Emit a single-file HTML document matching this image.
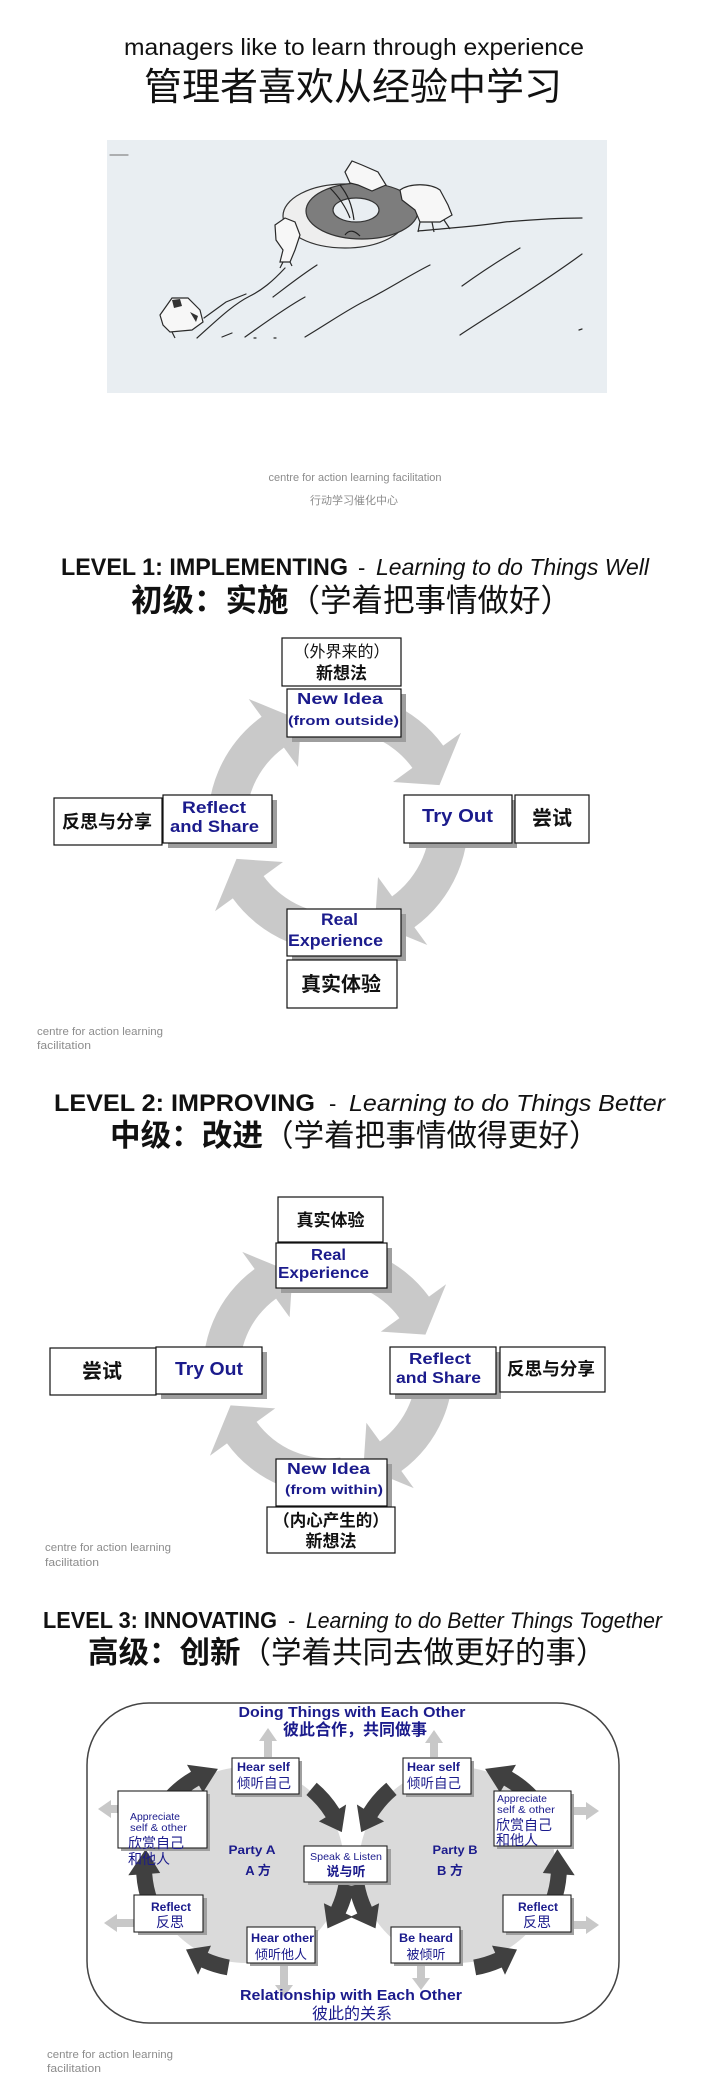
<!DOCTYPE html>
<html>
<head>
<meta charset="utf-8">
<style>
  html,body{margin:0;padding:0;background:#fff;}
  body{width:703px;height:2100px;overflow:hidden;}
  svg{display:block;}
  .en{font-family:"Liberation Sans","Noto Sans CJK SC",sans-serif;}
  .cn{font-family:"Liberation Sans","Noto Sans CJK SC",sans-serif;}
  .nv{fill:#1b1b8c;}
  .cap{fill:#8c8c8c;font-family:"Liberation Sans","Noto Sans CJK SC",sans-serif;}
</style>
</head>
<body>
<svg width="703" height="2100" viewBox="0 0 703 2100" xmlns="http://www.w3.org/2000/svg">

<!-- ============ TOP SECTION ============ -->
<text class="en" x="354" y="55" font-size="23" text-anchor="middle" textLength="460" lengthAdjust="spacingAndGlyphs" fill="#111">managers like to learn through experience</text>
<text class="cn" x="353" y="100" font-size="38" text-anchor="middle" fill="#111">管理者喜欢从经验中学习</text>

<!-- picture -->
<rect x="107" y="140" width="500" height="253" fill="#e9eef2"/>
<g stroke="#2a2a2a" stroke-width="1.2" fill="none" stroke-linecap="round">
  <path d="M110,155 L128,155" stroke="#888"/>
  <path d="M197,338 C215,322 232,305 250,296 C262,290 272,282 285,268"/>
  <path d="M204,318 L226,302 L246,294"/>
  <path d="M418,231 C450,228 480,226 505,222 C540,219 565,218 582,218"/>
  <path d="M273,297 C285,288 300,276 317,265"/>
  <path d="M245,337 C262,325 285,308 305,297"/>
  <path d="M305,337 C330,322 350,308 367,300 C390,288 410,275 430,265"/>
  <path d="M462,286 C480,273 500,260 520,248"/>
  <path d="M460,335 C490,315 540,285 582,254"/>
  <path d="M222,337 L232,333"/>
  <path d="M254,338 L256,338 M274,338 L276,338 M579,330 L582,329"/>
</g>
<!-- stone -->
<ellipse cx="345" cy="216" rx="62" ry="32" fill="#eeeeee" stroke="#333" stroke-width="1.2"/>
<ellipse cx="362" cy="211" rx="56" ry="28" fill="#7d7d7d" stroke="#333" stroke-width="1.2"/>
<ellipse cx="356" cy="210" rx="23" ry="12" fill="#e9eef2" stroke="#333" stroke-width="1.2"/>
<g stroke="#222" stroke-width="1.2" fill="none">
  <path d="M330,188 C338,196 345,205 350,218"/>
  <path d="M340,185 C348,195 352,205 354,220"/>
  <path d="M345,235 C350,228 356,232 360,236"/>
</g>
<!-- figures -->
<g fill="#f7f7f7" stroke="#2a2a2a" stroke-width="1.2">
  <path d="M345,172 L352,161 L362,165 L378,172 L386,185 L372,191 L358,185 L350,183 Z"/>
  <path d="M400,190 C410,183 430,183 440,190 L448,205 L452,215 L440,222 L420,222 L415,210 L402,200 Z"/>
  <path d="M275,225 L285,218 L295,222 L300,235 L295,250 L290,262 L280,262 L283,250 L276,240 Z"/>
  <path d="M160,315 L172,298 L188,298 L200,310 L203,322 L192,330 L170,332 L163,325 Z"/>
</g>
<g stroke="#2a2a2a" stroke-width="1.2" fill="none">
  <path d="M420,222 L418,232 M432,222 L434,232 M444,220 L450,229"/>
  <path d="M283,262 L280,268 M290,262 L292,266"/>
  <path d="M172,332 L175,338"/>
</g>
<path d="M172,300 L180,299 L182,306 L174,308 Z M190,312 L198,316 L196,322 Z" fill="#333"/>

<text class="cap" x="355" y="481" font-size="11" text-anchor="middle" textLength="173" lengthAdjust="spacingAndGlyphs">centre for action learning facilitation</text>
<text class="cap" x="354" y="504" font-size="11" text-anchor="middle">行动学习催化中心</text>

<!-- ============ LEVEL 1 ============ -->
<text class="en" x="61" y="575" font-size="24" font-weight="bold" textLength="287" lengthAdjust="spacingAndGlyphs" fill="#111">LEVEL 1: IMPLEMENTING</text>
<text class="en" x="358" y="575" font-size="22" fill="#111">-</text>
<text class="en" x="376" y="575" font-size="23" font-style="italic" textLength="273" lengthAdjust="spacingAndGlyphs" fill="#111">Learning to do Things Well</text>
<text class="cn" x="131" y="611" font-size="31.5" fill="#111"><tspan font-weight="bold">初级：实施</tspan><tspan>（学着把事情做好）</tspan></text>

<g transform="translate(338,822)" fill="#c9c9c9">
  <path d="M-18.1,-128.7 A130,130 0 0 1 105.2,-76.4 L123.0,-89.3 L101.5,-36.9 L55.0,-40.0 L74.4,-54.1 A92,92 0 0 0 -12.8,-91.1 Z"/>
  <path transform="rotate(90)" d="M-18.1,-128.7 A130,130 0 0 1 105.2,-76.4 L123.0,-89.3 L101.5,-36.9 L55.0,-40.0 L74.4,-54.1 A92,92 0 0 0 -12.8,-91.1 Z"/>
  <path transform="rotate(180)" d="M-18.1,-128.7 A130,130 0 0 1 105.2,-76.4 L123.0,-89.3 L101.5,-36.9 L55.0,-40.0 L74.4,-54.1 A92,92 0 0 0 -12.8,-91.1 Z"/>
  <path transform="rotate(270)" d="M-18.1,-128.7 A130,130 0 0 1 105.2,-76.4 L123.0,-89.3 L101.5,-36.9 L55.0,-40.0 L74.4,-54.1 A92,92 0 0 0 -12.8,-91.1 Z"/>
</g>

<g stroke="#111" stroke-width="1.2">
  <rect x="282" y="638" width="119" height="48" fill="#fff"/>
  <rect x="292" y="694" width="114" height="48" fill="#9e9e9e" stroke="none"/>
  <rect x="287" y="689" width="114" height="48" fill="#fff"/>
  <rect x="54" y="798" width="108" height="47" fill="#fff"/>
  <rect x="168" y="800" width="109" height="48" fill="#9e9e9e" stroke="none"/>
  <rect x="163" y="795" width="109" height="48" fill="#fff"/>
  <rect x="409" y="800" width="108" height="48" fill="#9e9e9e" stroke="none"/>
  <rect x="404" y="795" width="108" height="48" fill="#fff"/>
  <rect x="515" y="795" width="74" height="48" fill="#fff"/>
  <rect x="292" y="914" width="114" height="47" fill="#9e9e9e" stroke="none"/>
  <rect x="287" y="909" width="114" height="47" fill="#fff"/>
  <rect x="287" y="960" width="110" height="48" fill="#fff"/>
</g>
<text class="cn" x="341.5" y="657" font-size="16" text-anchor="middle" fill="#111">（外界来的）</text>
<text class="cn" x="341.5" y="679" font-size="17" font-weight="bold" text-anchor="middle" fill="#111">新想法</text>
<text class="en nv" x="340" y="704" font-size="16" font-weight="bold" text-anchor="middle" textLength="86" lengthAdjust="spacingAndGlyphs">New Idea</text>
<text class="en nv" x="343.5" y="725" font-size="13" font-weight="bold" text-anchor="middle" textLength="111" lengthAdjust="spacingAndGlyphs">(from outside)</text>
<text class="cn" x="107" y="828" font-size="18" font-weight="bold" text-anchor="middle" fill="#111">反思与分享</text>
<text class="en nv" x="214" y="813" font-size="17" font-weight="bold" text-anchor="middle" textLength="64" lengthAdjust="spacingAndGlyphs">Reflect</text>
<text class="en nv" x="214.5" y="832" font-size="17" font-weight="bold" text-anchor="middle" textLength="89" lengthAdjust="spacingAndGlyphs">and Share</text>
<text class="en nv" x="457.5" y="822" font-size="18" font-weight="bold" text-anchor="middle" textLength="71" lengthAdjust="spacingAndGlyphs">Try Out</text>
<text class="cn" x="552" y="825" font-size="20" font-weight="bold" text-anchor="middle" fill="#111">尝试</text>
<text class="en nv" x="339.5" y="925" font-size="17" font-weight="bold" text-anchor="middle" textLength="37" lengthAdjust="spacingAndGlyphs">Real</text>
<text class="en nv" x="335.5" y="946" font-size="17" font-weight="bold" text-anchor="middle" textLength="95" lengthAdjust="spacingAndGlyphs">Experience</text>
<text class="cn" x="341" y="991" font-size="20" font-weight="bold" text-anchor="middle" fill="#111">真实体验</text>

<text class="cap" x="37" y="1035" font-size="11" textLength="126" lengthAdjust="spacingAndGlyphs">centre for action learning</text>
<text class="cap" x="37" y="1049" font-size="11" textLength="54" lengthAdjust="spacingAndGlyphs">facilitation</text>

<!-- ============ LEVEL 2 ============ -->
<text class="en" x="54" y="1111" font-size="24" font-weight="bold" textLength="261" lengthAdjust="spacingAndGlyphs" fill="#111">LEVEL 2: IMPROVING</text>
<text class="en" x="329" y="1111" font-size="22" fill="#111">-</text>
<text class="en" x="349" y="1111" font-size="23" font-style="italic" textLength="316" lengthAdjust="spacingAndGlyphs" fill="#111">Learning to do Things Better</text>
<text class="cn" x="110" y="1146" font-size="30.6" fill="#111"><tspan font-weight="bold">中级：改进</tspan><tspan>（学着把事情做得更好）</tspan></text>

<g transform="translate(328,1370) scale(0.96)" fill="#c9c9c9">
  <path d="M-18.1,-128.7 A130,130 0 0 1 105.2,-76.4 L123.0,-89.3 L101.5,-36.9 L55.0,-40.0 L74.4,-54.1 A92,92 0 0 0 -12.8,-91.1 Z"/>
  <path transform="rotate(90)" d="M-18.1,-128.7 A130,130 0 0 1 105.2,-76.4 L123.0,-89.3 L101.5,-36.9 L55.0,-40.0 L74.4,-54.1 A92,92 0 0 0 -12.8,-91.1 Z"/>
  <path transform="rotate(180)" d="M-18.1,-128.7 A130,130 0 0 1 105.2,-76.4 L123.0,-89.3 L101.5,-36.9 L55.0,-40.0 L74.4,-54.1 A92,92 0 0 0 -12.8,-91.1 Z"/>
  <path transform="rotate(270)" d="M-18.1,-128.7 A130,130 0 0 1 105.2,-76.4 L123.0,-89.3 L101.5,-36.9 L55.0,-40.0 L74.4,-54.1 A92,92 0 0 0 -12.8,-91.1 Z"/>
</g>

<g stroke="#111" stroke-width="1.2">
  <rect x="278" y="1197" width="105" height="45" fill="#fff"/>
  <rect x="281" y="1248" width="111" height="45" fill="#9e9e9e" stroke="none"/>
  <rect x="276" y="1243" width="111" height="45" fill="#fff"/>
  <rect x="50" y="1348" width="106" height="47" fill="#fff"/>
  <rect x="161" y="1352" width="106" height="47" fill="#9e9e9e" stroke="none"/>
  <rect x="156" y="1347" width="106" height="47" fill="#fff"/>
  <rect x="395" y="1352" width="106" height="47" fill="#9e9e9e" stroke="none"/>
  <rect x="390" y="1347" width="106" height="47" fill="#fff"/>
  <rect x="500" y="1347" width="105" height="45" fill="#fff"/>
  <rect x="281" y="1464" width="111" height="47" fill="#9e9e9e" stroke="none"/>
  <rect x="276" y="1459" width="111" height="47" fill="#fff"/>
  <rect x="267" y="1507" width="128" height="46" fill="#fff"/>
</g>
<text class="cn" x="330.5" y="1226" font-size="17" font-weight="bold" text-anchor="middle" fill="#111">真实体验</text>
<text class="en nv" x="328.5" y="1260" font-size="16" font-weight="bold" text-anchor="middle" textLength="35" lengthAdjust="spacingAndGlyphs">Real</text>
<text class="en nv" x="323.5" y="1278" font-size="16" font-weight="bold" text-anchor="middle" textLength="91" lengthAdjust="spacingAndGlyphs">Experience</text>
<text class="cn" x="102" y="1378" font-size="20" font-weight="bold" text-anchor="middle" fill="#111">尝试</text>
<text class="en nv" x="209" y="1375" font-size="18" font-weight="bold" text-anchor="middle" textLength="68" lengthAdjust="spacingAndGlyphs">Try Out</text>
<text class="en nv" x="440" y="1364" font-size="16" font-weight="bold" text-anchor="middle" textLength="62" lengthAdjust="spacingAndGlyphs">Reflect</text>
<text class="en nv" x="438.5" y="1383" font-size="16" font-weight="bold" text-anchor="middle" textLength="85" lengthAdjust="spacingAndGlyphs">and Share</text>
<text class="cn" x="551" y="1375" font-size="17.6" font-weight="bold" text-anchor="middle" fill="#111">反思与分享</text>
<text class="en nv" x="328.5" y="1474" font-size="16" font-weight="bold" text-anchor="middle" textLength="83" lengthAdjust="spacingAndGlyphs">New Idea</text>
<text class="en nv" x="334" y="1494" font-size="13" font-weight="bold" text-anchor="middle" textLength="98" lengthAdjust="spacingAndGlyphs">(from within)</text>
<text class="cn" x="331" y="1526" font-size="16.5" font-weight="bold" text-anchor="middle" fill="#111">（内心产生的）</text>
<text class="cn" x="331" y="1547" font-size="17" font-weight="bold" text-anchor="middle" fill="#111">新想法</text>

<text class="cap" x="45" y="1551" font-size="11" textLength="126" lengthAdjust="spacingAndGlyphs">centre for action learning</text>
<text class="cap" x="45" y="1566" font-size="11" textLength="54" lengthAdjust="spacingAndGlyphs">facilitation</text>

<!-- ============ LEVEL 3 ============ -->
<text class="en" x="43" y="1628" font-size="23" font-weight="bold" textLength="234" lengthAdjust="spacingAndGlyphs" fill="#111">LEVEL 3: INNOVATING</text>
<text class="en" x="288" y="1628" font-size="22" fill="#111">-</text>
<text class="en" x="306" y="1628" font-size="22" font-style="italic" textLength="356" lengthAdjust="spacingAndGlyphs" fill="#111">Learning to do Better Things Together</text>
<text class="cn" x="88" y="1663" font-size="30.5" fill="#111"><tspan font-weight="bold">高级：创新</tspan><tspan>（学着共同去做更好的事）</tspan></text>

<rect x="87" y="1703" width="532" height="320" rx="62" ry="62" fill="#fff" stroke="#444" stroke-width="1.5"/>

<!-- circles -->
<circle cx="246" cy="1865" r="98" fill="#dadada"/>
<circle cx="457" cy="1865" r="98" fill="#dadada"/>

<!-- light outward arrows -->
<g fill="#c8c8c8">
  <polygon points="268,1728 277,1741 272,1741 272,1757 264,1757 264,1741 259,1741"/>
  <polygon points="434,1730 443,1743 438,1743 438,1757 430,1757 430,1743 425,1743"/>
  <polygon points="98,1809 111,1800 111,1805 125,1805 125,1813 111,1813 111,1818"/>
  <polygon points="104,1923 117,1914 117,1919 135,1919 135,1927 117,1927 117,1932"/>
  <polygon points="599,1811 586,1802 586,1807 572,1807 572,1815 586,1815 586,1820"/>
  <polygon points="599,1925 586,1916 586,1921 571,1921 571,1929 586,1929 586,1934"/>
  <polygon points="284,1997 293,1985 288,1985 288,1964 280,1964 280,1985 275,1985"/>
  <polygon points="421,1990 430,1978 425,1978 425,1964 417,1964 417,1978 412,1978"/>
</g>

<!-- dark arrows party A -->
<g fill="#404040">
  <path d="M152.7,1808.7 A110,110 0 0 1 191.0,1771.7 L187.0,1764.8 L217.9,1768.9 L203.0,1792.5 L199.0,1785.6 A94,94 0 0 0 166.3,1817.2 Z"/>
  <path d="M316.7,1782.7 A110,110 0 0 1 339.3,1808.7 L346.1,1804.5 L341.8,1832.1 L318.9,1821.4 L325.7,1817.2 A94,94 0 0 0 306.4,1795.0 Z"/>
  <path d="M354.3,1886.1 A110,110 0 0 1 345.7,1913.5 L352.9,1916.9 L327.5,1928.4 L323.9,1903.3 L331.2,1906.7 A94,94 0 0 0 338.6,1883.3 Z"/>
  <path d="M226.9,1975.3 A110,110 0 0 1 201.3,1967.5 L198.0,1974.8 L186.0,1949.5 L211.0,1945.6 L207.8,1952.9 A94,94 0 0 0 229.7,1959.6 Z"/>
  <path d="M142.6,1904.6 A110,110 0 0 1 136.3,1874.7 L128.3,1875.2 L145.6,1849.3 L160.2,1873.0 L152.2,1873.6 A94,94 0 0 0 157.7,1899.1 Z"/>
</g>
<!-- dark arrows party B (mirror) -->
<g fill="#404040" transform="translate(703,0) scale(-1,1)">
  <path d="M152.7,1808.7 A110,110 0 0 1 191.0,1771.7 L187.0,1764.8 L217.9,1768.9 L203.0,1792.5 L199.0,1785.6 A94,94 0 0 0 166.3,1817.2 Z"/>
  <path d="M316.7,1782.7 A110,110 0 0 1 339.3,1808.7 L346.1,1804.5 L341.8,1832.1 L318.9,1821.4 L325.7,1817.2 A94,94 0 0 0 306.4,1795.0 Z"/>
  <path d="M354.3,1886.1 A110,110 0 0 1 345.7,1913.5 L352.9,1916.9 L327.5,1928.4 L323.9,1903.3 L331.2,1906.7 A94,94 0 0 0 338.6,1883.3 Z"/>
  <path d="M226.9,1975.3 A110,110 0 0 1 201.3,1967.5 L198.0,1974.8 L186.0,1949.5 L211.0,1945.6 L207.8,1952.9 A94,94 0 0 0 229.7,1959.6 Z"/>
  <path d="M142.6,1904.6 A110,110 0 0 1 136.3,1874.7 L128.3,1875.2 L145.6,1849.3 L160.2,1873.0 L152.2,1873.6 A94,94 0 0 0 157.7,1899.1 Z"/>
</g>

<!-- level 3 headings -->
<text class="en nv" x="352" y="1717" font-size="15" font-weight="bold" text-anchor="middle" textLength="227" lengthAdjust="spacingAndGlyphs">Doing Things with Each Other</text>
<text class="cn nv" x="355" y="1735" font-size="16" font-weight="bold" text-anchor="middle">彼此合作，共同做事</text>
<text class="en nv" x="351" y="2000" font-size="15" font-weight="bold" text-anchor="middle" textLength="222" lengthAdjust="spacingAndGlyphs">Relationship with Each Other</text>
<text class="cn nv" x="352" y="2019" font-size="16" text-anchor="middle">彼此的关系</text>

<!-- level 3 boxes -->
<g stroke="#222" stroke-width="1.1">
  <rect x="235" y="1761" width="67" height="36" fill="#a0a0a0" stroke="none"/>
  <rect x="232" y="1758" width="67" height="36" fill="#fff"/>
  <rect x="406" y="1761" width="68" height="36" fill="#a0a0a0" stroke="none"/>
  <rect x="403" y="1758" width="68" height="36" fill="#fff"/>
  <rect x="121" y="1794" width="89" height="57" fill="#a0a0a0" stroke="none"/>
  <rect x="118" y="1791" width="89" height="57" fill="#fff"/>
  <rect x="497" y="1794" width="77" height="55" fill="#a0a0a0" stroke="none"/>
  <rect x="494" y="1791" width="77" height="55" fill="#fff"/>
  <rect x="308" y="1849" width="83" height="36" fill="#a0a0a0" stroke="none"/>
  <rect x="304" y="1846" width="83" height="36" fill="#fff"/>
  <rect x="138" y="1898" width="69" height="37" fill="#a0a0a0" stroke="none"/>
  <rect x="134" y="1895" width="69" height="37" fill="#fff"/>
  <rect x="506" y="1898" width="68" height="37" fill="#a0a0a0" stroke="none"/>
  <rect x="503" y="1895" width="68" height="37" fill="#fff"/>
  <rect x="250" y="1930" width="68" height="36" fill="#a0a0a0" stroke="none"/>
  <rect x="247" y="1927" width="68" height="36" fill="#fff"/>
  <rect x="394" y="1930" width="69" height="36" fill="#a0a0a0" stroke="none"/>
  <rect x="391" y="1927" width="69" height="36" fill="#fff"/>
</g>

<text class="en nv" x="237" y="1771" font-size="11.5" font-weight="bold" textLength="53" lengthAdjust="spacingAndGlyphs">Hear self</text>
<text class="cn nv" x="237" y="1788" font-size="13.5">倾听自己</text>
<text class="en nv" x="407" y="1771" font-size="11.5" font-weight="bold" textLength="53" lengthAdjust="spacingAndGlyphs">Hear self</text>
<text class="cn nv" x="407" y="1788" font-size="13.5">倾听自己</text>

<text class="en nv" x="130" y="1820" font-size="10" textLength="50" lengthAdjust="spacingAndGlyphs">Appreciate</text>
<text class="en nv" x="130" y="1831" font-size="10" textLength="57" lengthAdjust="spacingAndGlyphs">self &amp; other</text>
<text class="cn nv" x="128" y="1848" font-size="14">欣赏自己</text>
<text class="cn nv" x="128" y="1864" font-size="14">和他人</text>

<text class="en nv" x="497" y="1802" font-size="10" textLength="50" lengthAdjust="spacingAndGlyphs">Appreciate</text>
<text class="en nv" x="497" y="1813" font-size="10" textLength="58" lengthAdjust="spacingAndGlyphs">self &amp; other</text>
<text class="cn nv" x="496" y="1830" font-size="14">欣赏自己</text>
<text class="cn nv" x="496" y="1845" font-size="14">和他人</text>

<text class="en nv" x="252" y="1854" font-size="12" font-weight="bold" text-anchor="middle" textLength="47" lengthAdjust="spacingAndGlyphs">Party A</text>
<text class="cn nv" x="258" y="1875" font-size="13" font-weight="bold" text-anchor="middle">A 方</text>
<text class="en nv" x="455" y="1854" font-size="12" font-weight="bold" text-anchor="middle" textLength="45" lengthAdjust="spacingAndGlyphs">Party B</text>
<text class="cn nv" x="450" y="1875" font-size="13" font-weight="bold" text-anchor="middle">B 方</text>

<text class="en nv" x="346" y="1860" font-size="10.5" text-anchor="middle" textLength="72" lengthAdjust="spacingAndGlyphs">Speak &amp; Listen</text>
<text class="cn nv" x="346" y="1876" font-size="13" font-weight="bold" text-anchor="middle">说与听</text>

<text class="en nv" x="171" y="1911" font-size="12" font-weight="bold" text-anchor="middle" textLength="40" lengthAdjust="spacingAndGlyphs">Reflect</text>
<text class="cn nv" x="170" y="1927" font-size="14" text-anchor="middle">反思</text>
<text class="en nv" x="538" y="1911" font-size="12" font-weight="bold" text-anchor="middle" textLength="40" lengthAdjust="spacingAndGlyphs">Reflect</text>
<text class="cn nv" x="537" y="1927" font-size="14" text-anchor="middle">反思</text>

<text class="en nv" x="251" y="1942" font-size="11.5" font-weight="bold" textLength="63" lengthAdjust="spacingAndGlyphs">Hear other</text>
<text class="cn nv" x="281" y="1959" font-size="13" text-anchor="middle">倾听他人</text>
<text class="en nv" x="426" y="1942" font-size="11.5" font-weight="bold" text-anchor="middle" textLength="54" lengthAdjust="spacingAndGlyphs">Be heard</text>
<text class="cn nv" x="426" y="1959" font-size="13" text-anchor="middle">被倾听</text>

<text class="cap" x="47" y="2058" font-size="11" textLength="126" lengthAdjust="spacingAndGlyphs">centre for action learning</text>
<text class="cap" x="47" y="2072" font-size="11" textLength="54" lengthAdjust="spacingAndGlyphs">facilitation</text>

</svg>
</body>
</html>
